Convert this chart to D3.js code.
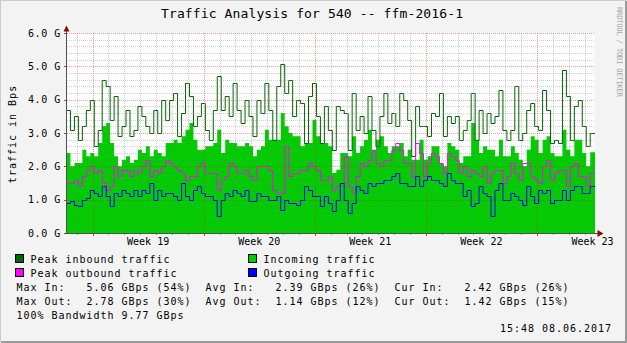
<!DOCTYPE html>
<html><head><meta charset="utf-8">
<script src="https://cdn.jsdelivr.net/npm/d3@7"></script>
<style>
html,body{margin:0;padding:0;background:#f3f3f3;}
svg{display:block;}
text{font-family:"DejaVu Sans Mono",monospace;fill:#000;}
</style></head>
<body>
<svg id="c" width="627" height="343"></svg>
<script>
// ---- data (GBps), one sample per ~6h starting 2017-05-06 08:36 UTC ----
const peakIn = [3.7,3.1,3.5,2.8,3.2,3.7,4.0,2.6,3.1,4.6,4.4,3.4,4.1,2.9,3.2,3.7,2.9,3.1,3.8,3.5,3.2,3.0,
3.7,3.0,4.0,3.4,4.0,4.2,2.9,3.6,4.5,4.1,3.2,3.5,3.9,3.1,2.8,3.7,4.7,3.7,4.1,3.5,4.5,3.7,3.3,
4.0,3.5,2.9,4.0,3.6,4.5,3.7,2.8,4.4,5.06,4.2,4.6,3.5,4.0,3.9,2.7,4.1,4.5,3.5,2.7,3.8,3.1,
2.5,3.8,3.7,3.6,2.5,4.2,3.1,3.5,3.0,4.1,3.1,2.6,3.5,4.2,3.3,3.6,3.2,4.2,4.0,3.4,2.3,3.8,3.2,
3.2,2.9,3.6,3.5,4.2,2.9,3.5,3.3,3.5,2.8,3.1,3.4,4.2,2.8,3.7,3.0,3.6,3.3,3.5,4.3,3.1,2.8,
3.1,4.4,2.8,3.0,3.7,3.9,3.2,3.1,4.3,3.7,2.7,2.8,2.7,4.9,4.1,2.8,3.8,4.0,3.2,2.6,3.0];
const incoming = [2.4,2.0,2.1,2.1,2.5,2.3,2.4,2.3,2.7,3.2,3.3,2.7,2.3,2.0,2.2,2.3,2.1,2.2,2.5,2.4,2.6,2.3,
2.5,2.4,2.3,2.7,2.7,2.8,2.7,2.9,3.1,3.3,2.8,2.5,2.5,2.6,2.6,2.7,3.1,2.4,2.8,2.7,2.7,2.6,2.6,
2.7,2.6,2.3,2.5,2.6,3.1,2.8,2.8,2.8,3.6,3.2,3.0,2.9,2.9,2.6,2.7,2.7,3.4,2.9,2.7,2.7,2.6,
1.8,1.9,2.4,2.4,2.3,2.9,2.4,2.6,2.8,3.1,2.5,2.8,2.9,2.6,2.4,2.6,2.6,2.7,2.3,2.5,2.2,2.2,2.8,
2.2,2.3,2.6,2.6,2.1,2.0,2.7,2.6,2.5,2.1,2.3,2.3,3.3,2.8,2.4,2.6,2.5,2.5,2.3,2.8,2.3,2.3,
2.6,2.4,2.2,2.0,2.5,2.9,2.8,2.4,2.8,2.9,2.4,2.3,2.3,3.1,2.5,2.3,2.8,2.8,2.4,2.0,2.42];
const peakOut = [1.5,1.5,1.6,1.4,1.7,1.9,2.0,1.8,1.9,1.5,1.3,1.4,2.0,1.7,1.9,1.9,1.7,1.9,1.8,2.0,2.2,1.7,
1.9,1.8,2.0,2.2,2.1,2.0,1.9,1.8,1.6,1.7,1.7,2.0,2.1,1.8,1.8,1.8,1.3,1.6,1.7,2.1,2.0,1.8,1.8,
1.9,1.7,1.6,2.0,2.0,2.0,1.9,1.3,1.2,1.2,2.6,1.7,1.8,1.8,1.9,1.9,2.1,2.0,1.9,1.6,1.6,1.7,
1.3,1.4,1.5,2.3,1.4,1.2,1.7,2.1,2.0,2.2,2.5,2.1,2.0,2.2,2.2,2.5,2.7,2.5,2.1,2.1,1.7,2.7,2.4,
1.7,2.1,2.4,2.3,2.1,1.8,2.4,2.3,2.2,1.8,2.0,1.7,1.9,1.8,1.7,2.0,1.5,1.8,1.9,1.9,1.5,1.7,
2.1,1.8,1.6,2.1,2.1,1.7,1.6,1.5,2.0,2.2,1.6,1.8,1.9,1.9,1.4,2.0,2.1,1.7,1.7,1.4,1.8];
const outgoing = [0.9,0.95,0.85,0.8,1.0,1.05,1.3,1.2,1.1,1.4,1.1,0.8,1.2,1.1,1.3,1.2,1.1,1.3,1.1,1.3,1.2,1.5,
1.0,1.3,1.1,1.2,1.2,1.1,1.0,1.5,1.1,1.0,1.3,1.4,1.2,1.1,1.1,1.0,0.5,1.0,1.2,1.1,1.3,1.2,1.1,
1.3,0.95,0.95,1.2,1.1,1.1,1.0,1.0,1.1,0.7,1.0,0.9,0.9,0.85,1.0,1.4,1.3,1.1,1.1,0.8,1.1,0.9,
0.65,1.0,1.5,1.0,0.6,0.9,1.4,1.3,1.2,1.5,1.4,1.5,1.5,1.6,1.6,1.7,1.8,1.5,1.5,1.4,1.4,1.7,1.4,
1.6,1.7,1.6,1.6,1.5,1.4,1.8,1.6,1.5,1.5,1.1,1.3,0.8,0.9,1.4,1.2,1.1,0.5,1.3,1.5,1.0,1.0,
1.2,1.1,1.0,0.85,1.4,1.1,0.9,1.3,1.2,1.3,0.9,1.0,1.0,1.3,1.0,1.3,1.4,1.4,1.2,1.2,1.42];
const yTicks = [0,1,2,3,4,5,6];
const legendItems = [
  {label:"Peak inbound traffic", color:"#006600"},
  {label:"Incoming traffic", color:"#00cc00"},
  {label:"Peak outbound traffic", color:"#ff00ff"},
  {label:"Outgoing traffic", color:"#0000ff"}
];
const statLines = [
  "Max In:   5.06 GBps (54%)  Avg In:   2.39 GBps (26%)  Cur In:   2.42 GBps (26%)",
  "Max Out:  2.78 GBps (30%)  Avg Out:  1.14 GBps (12%)  Cur Out:  1.42 GBps (15%)",
  "100% Bandwidth 9.77 GBps"
];
const title = "Traffic Analysis for 540 -- ffm-2016-1";
const stamp = "15:48 08.06.2017";

// ---- scales ----
const endT = Date.UTC(2017,5,8,15,48);
const pxPerDay = 15.87;
const L = 66.5, R = 595, T = 33, B = 233;
const startT = endT - (R - L) / pxPerDay * 864e5;
const step = 6 * 3600e3;
const x = d3.scaleUtc().domain([startT, endT]).range([L, R]);
const y = d3.scaleLinear().domain([0, 6]).range([B, T]);

const svg = d3.select("#c");
// frame
svg.append("rect").attr("width",627).attr("height",343).attr("fill","#f3f3f3");
svg.append("path").attr("d","M0,342V0H626").attr("stroke","#cbcbcb").attr("stroke-width",2).attr("fill","none");
svg.append("path").attr("d","M1,342H626V1").attr("stroke","#9b9b9b").attr("stroke-width",2).attr("fill","none");
// canvas
svg.append("rect").attr("x",L).attr("y",T).attr("width",R-L).attr("height",B-T).attr("fill","#fff");

svg.append("clipPath").attr("id","pc").append("rect")
  .attr("x",L).attr("y",T-2).attr("width",R-L).attr("height",B-T+2);

function series(arr){
  const pts = arr.map((v,i)=>({t:startT+i*step, v}));
  pts.push({t:endT, v:arr[arr.length-1]});
  return pts;
}
const g = svg.append("g").attr("clip-path","url(#pc)");
const area = d3.area().curve(d3.curveStepAfter).x(d=>x(d.t)).y0(y(0)).y1(d=>y(d.v));
const line = d3.line().curve(d3.curveStepAfter).x(d=>x(d.t)).y(d=>Math.round(y(d.v))+0.5);
g.append("path").attr("d",area(series(incoming))).attr("fill","#00cc00");
g.append("path").attr("d",line(series(peakIn))).attr("fill","none").attr("stroke","#006600").attr("stroke-width",1);
g.append("path").attr("d",line(series(peakOut))).attr("fill","none").attr("stroke","#ff00ff").attr("stroke-width",1);
g.append("path").attr("d",line(series(outgoing))).attr("fill","none").attr("stroke","#0000ff").attr("stroke-width",1);

// grid (on top, translucent dotted)
const grid = svg.append("g").attr("shape-rendering","crispEdges");
const minorC = "rgba(120,120,120,0.35)", majorC = "rgba(210,40,40,0.45)";
for (let k = 1; k <= 30; k++) {
  const v = k * 0.2, yy = Math.round(y(v)) + 0.5;
  const major = k % 5 === 0;
  grid.append("line").attr("x1",L).attr("x2",R).attr("y1",yy).attr("y2",yy)
    .attr("stroke", major ? majorC : minorC).attr("stroke-dasharray","1,1");
}
const days = d3.utcDay.range(d3.utcDay.ceil(startT), endT);
days.forEach(d => {
  const xx = Math.round(x(d)) + 0.5;
  const major = d.getUTCDay() === 1;
  grid.append("line").attr("x1",xx).attr("x2",xx).attr("y1",T).attr("y2",B)
    .attr("stroke", major ? majorC : minorC).attr("stroke-dasharray","1,1");
  grid.append("line").attr("x1",xx).attr("x2",xx).attr("y1",B).attr("y2",B+ (major?3:2))
    .attr("stroke", major ? "#c04040" : "#999");
});
yTicks.forEach(v => {
  const yy = Math.round(y(v)) + 0.5;
  grid.append("line").attr("x1",L-3).attr("x2",L).attr("y1",yy).attr("y2",yy).attr("stroke","#c04040");
});

// axes
svg.append("line").attr("x1",66.5).attr("x2",66.5).attr("y1",B+1).attr("y2",29).attr("stroke","#505050");
svg.append("line").attr("x1",64).attr("x2",599).attr("y1",B+0.5).attr("y2",B+0.5).attr("stroke","#505050");
svg.append("path").attr("d","M63.5,31.5L66.5,25.5L69.5,31.5Z").attr("fill","#7f1010");
svg.append("path").attr("d","M597.5,230L603.5,233.5L597.5,237Z").attr("fill","#7f1010");

// y labels
svg.append("g").selectAll("text").data(yTicks).join("text")
  .attr("x",61).attr("y",v=>y(v)+3.5).attr("text-anchor","end")
  .style("font-size","10px").style("letter-spacing","0.6px")
  .text(v=>d3.format(".1f")(v)+" G");
// x labels (week labels centred on the week)
const weeks = d3.utcMonday.range(d3.utcMonday.floor(startT), endT);
svg.append("g").selectAll("text").data(weeks.filter(w=>x(w.getTime()+3.5*864e5)>L+20)).join("text")
  .attr("x",w=>x(w.getTime()+3.5*864e5)).attr("y",245).attr("text-anchor","middle")
  .style("font-size","10px")
  .text(w=>"Week "+d3.utcFormat("%V")(w));

// title
svg.append("text").attr("x",161).attr("y",18)
  .attr("textLength",302).attr("lengthAdjust","spacing")
  .style("font-size","13px").text(title);
// y axis title
svg.append("text").attr("transform","translate(16,134) rotate(-90)").attr("text-anchor","middle")
  .style("font-size","10px").style("letter-spacing","1px").text("traffic in Bps");
// watermark
svg.append("text").attr("transform","translate(617,7) rotate(90)")
  .attr("textLength",90).attr("lengthAdjust","spacing")
  .style("font-size","7.5px").style("fill","#a8a8a8").text("RRDTOOL / TOBI OETIKER");

// legend
const lg = svg.append("g");
legendItems.forEach((it,i) => {
  const col = i % 2, row = Math.floor(i/2);
  const lx = col ? 248.5 : 15.5, ly = 254.5 + row*14;
  lg.append("rect").attr("x",lx).attr("y",ly).attr("width",8).attr("height",8)
    .attr("fill",it.color).attr("stroke","#000").attr("stroke-width",1);
  lg.append("text").attr("x",lx+15).attr("y",ly+8).style("font-size","10px").style("letter-spacing","0.98px")
    .text(it.label);
});
statLines.forEach((s,i) => {
  lg.append("text").attr("x",16.5).attr("y",290.5+i*14).attr("xml:space","preserve")
    .style("font-size","10px").style("letter-spacing","0.98px").style("white-space","pre").text(s);
});
svg.append("text").attr("x",500).attr("y",331.5).style("font-size","10px").style("letter-spacing","0.98px").text(stamp);
</script>
</body></html>
